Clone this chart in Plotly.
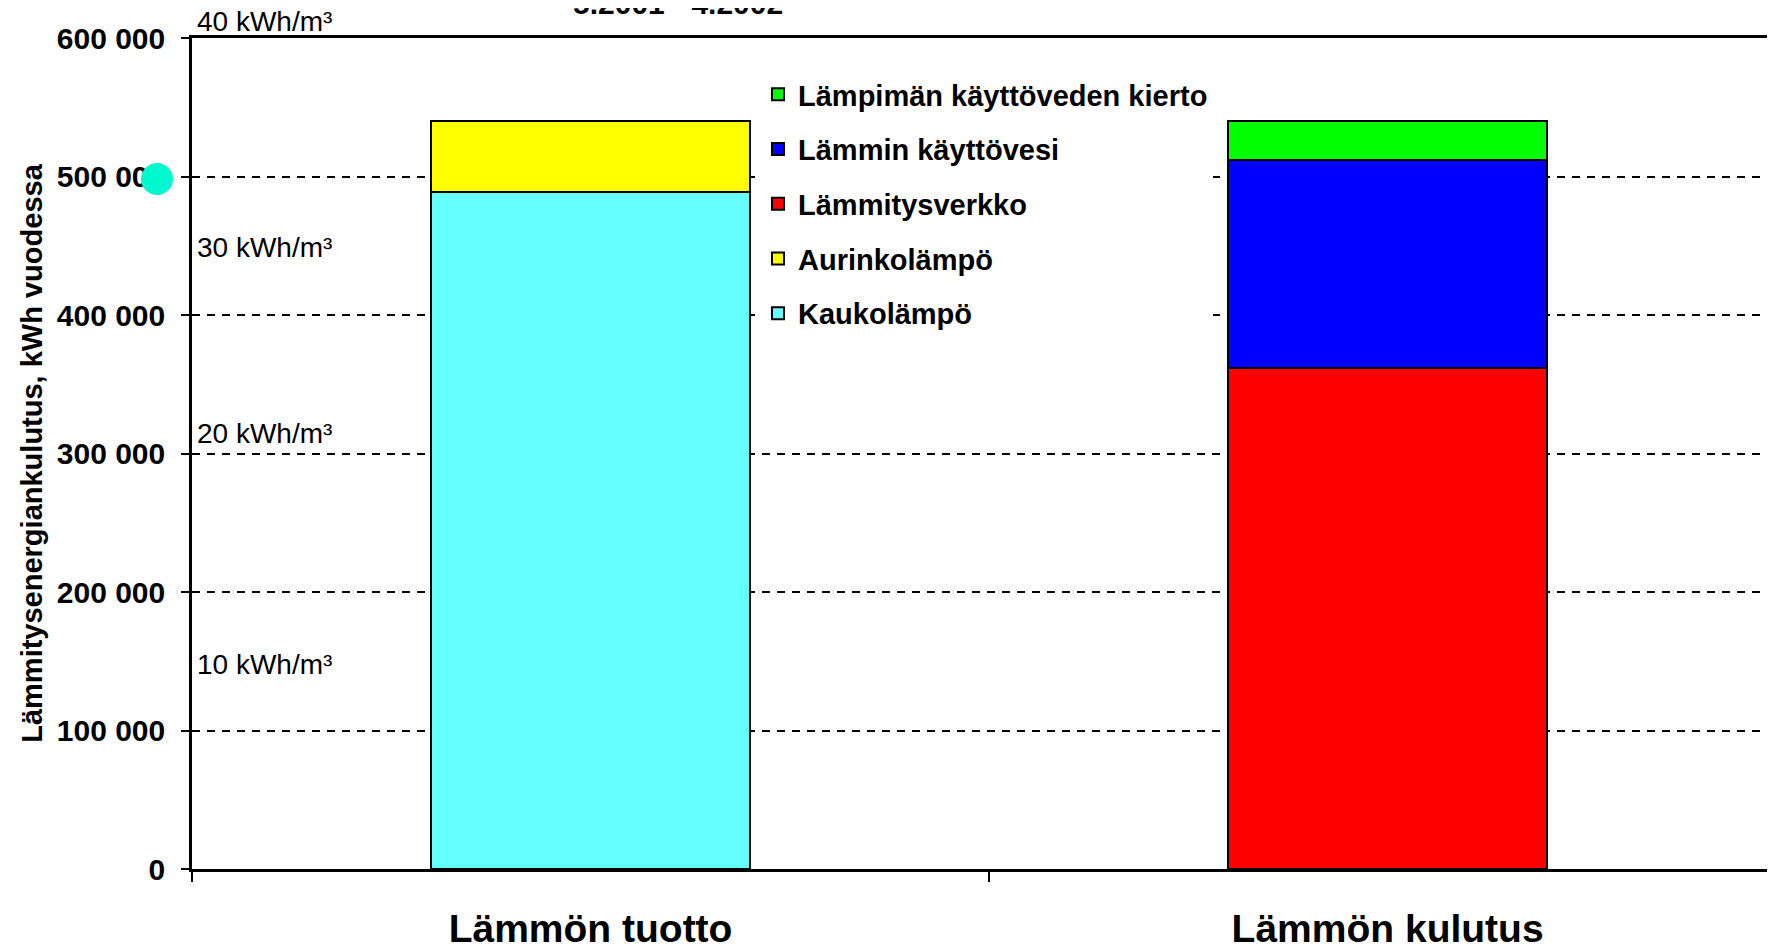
import plotly.graph_objects as go

categories = ["Lämmön tuotto", "Lämmön kulutus"]

# series values (kWh per year)
kaukolampo = [488500, 0]
aurinkolampo = [51800, 0]
lammitysverkko = [0, 361500]
lammin_kayttovesi = [0, 150200]
kierto = [0, 28600]

series_names = ["Kaukolämpö", "Aurinkolämpö", "Lämmitysverkko",
                "Lämmin käyttövesi", "Lämpimän käyttöveden kierto"]
series_values = [kaukolampo, aurinkolampo, lammitysverkko, lammin_kayttovesi, kierto]
series_colors = ["#66FFFF", "#FFFF00", "#FF0000", "#0000FF", "#00FF00"]
legend_ranks = [5, 4, 3, 2, 1]

Y_MAX = 600000
y_ticks = [0, 100000, 200000, 300000, 400000, 500000, 600000]

# secondary (kWh/m³) labels and their vertical positions on the kWh scale
area_labels = ["40 kWh/m³", "30 kWh/m³", "20 kWh/m³", "10 kWh/m³"]
area_label_pos = [611900, 448800, 314400, 147300]

title_text = "5.2001 - 4.2002"
y_title = "Lämmitysenergiankulutus, kWh vuodessa"

FONT = "Arial, 'Liberation Sans', sans-serif"

fig = go.Figure()
for name, vals, col, rk in zip(series_names, series_values, series_colors, legend_ranks):
    fig.add_trace(go.Bar(
        x=categories, y=vals, name=name, legendgroup=name, legendrank=rk,
        width=0.4,
        marker=dict(color=col, line=dict(color="black", width=2)),
    ))

for txt, pos in zip(area_labels, area_label_pos):
    fig.add_annotation(text=txt, xref="paper", x=0, xanchor="left", xshift=3,
                       yref="paper", y=pos / Y_MAX, yanchor="middle", showarrow=False,
                       font=dict(family=FONT, size=28, color="black"))

fig.add_annotation(text=f"<b>{title_text}</b>", xref="paper", x=(678 - 192) / 1583,
                   xanchor="center", yref="paper", y=(861 - 14) / 831, yanchor="bottom",
                   showarrow=False, font=dict(family=FONT, size=30, color="black"))

# turquoise dot near the 500 000 tick label
fig.add_shape(type="circle", xref="paper", xsizemode="pixel", xanchor=0,
              x0=-51, x1=-19, yref="y", ysizemode="pixel", yanchor=500000,
              y0=-18.5, y1=13.5, fillcolor="#00F8D0", line=dict(width=0),
              layer="above")

fig.update_layout(
    width=1775, height=947,
    barmode="stack",
    separators=", ",
    plot_bgcolor="white", paper_bgcolor="white",
    margin=dict(l=184, r=8, t=30, b=86, autoexpand=False),
    font=dict(family=FONT, color="black"),
    showlegend=True,
    legend=dict(
        traceorder="grouped", tracegroupgap=14,
        x=(758 - 192) / 1583, xanchor="left",
        y=(869 - 69) / 831, yanchor="top",
        bgcolor="white",
        font=dict(family=FONT, size=29, color="black", weight="bold"),
    ),
    xaxis=dict(
        type="category", range=[-0.5, 1.486],
        showline=True, linecolor="black", linewidth=3, mirror=True,
        ticks="outside", tickson="boundaries", ticklen=10, tickwidth=1.5, tickcolor="black",
        tickfont=dict(family=FONT, size=39, color="black", weight="bold"),
        ticklabelstandoff=23,
        showgrid=False, zeroline=False,
    ),
    yaxis=dict(
        range=[0, Y_MAX], tickvals=y_ticks, tickformat=",.0f",
        showline=True, linecolor="black", linewidth=2.5,
        ticks="outside", ticklen=8, tickwidth=2, tickcolor="black",
        tickfont=dict(family=FONT, size=30, color="black", weight="bold"),
        ticklabelstandoff=10,
        showgrid=True, gridcolor="black", gridwidth=2, griddash="8px,7px",
        zeroline=False,
        title=dict(text=y_title, standoff=6,
                   font=dict(family=FONT, size=29, color="black", weight="bold")),
    ),
)

fig.write_html("out.html")
